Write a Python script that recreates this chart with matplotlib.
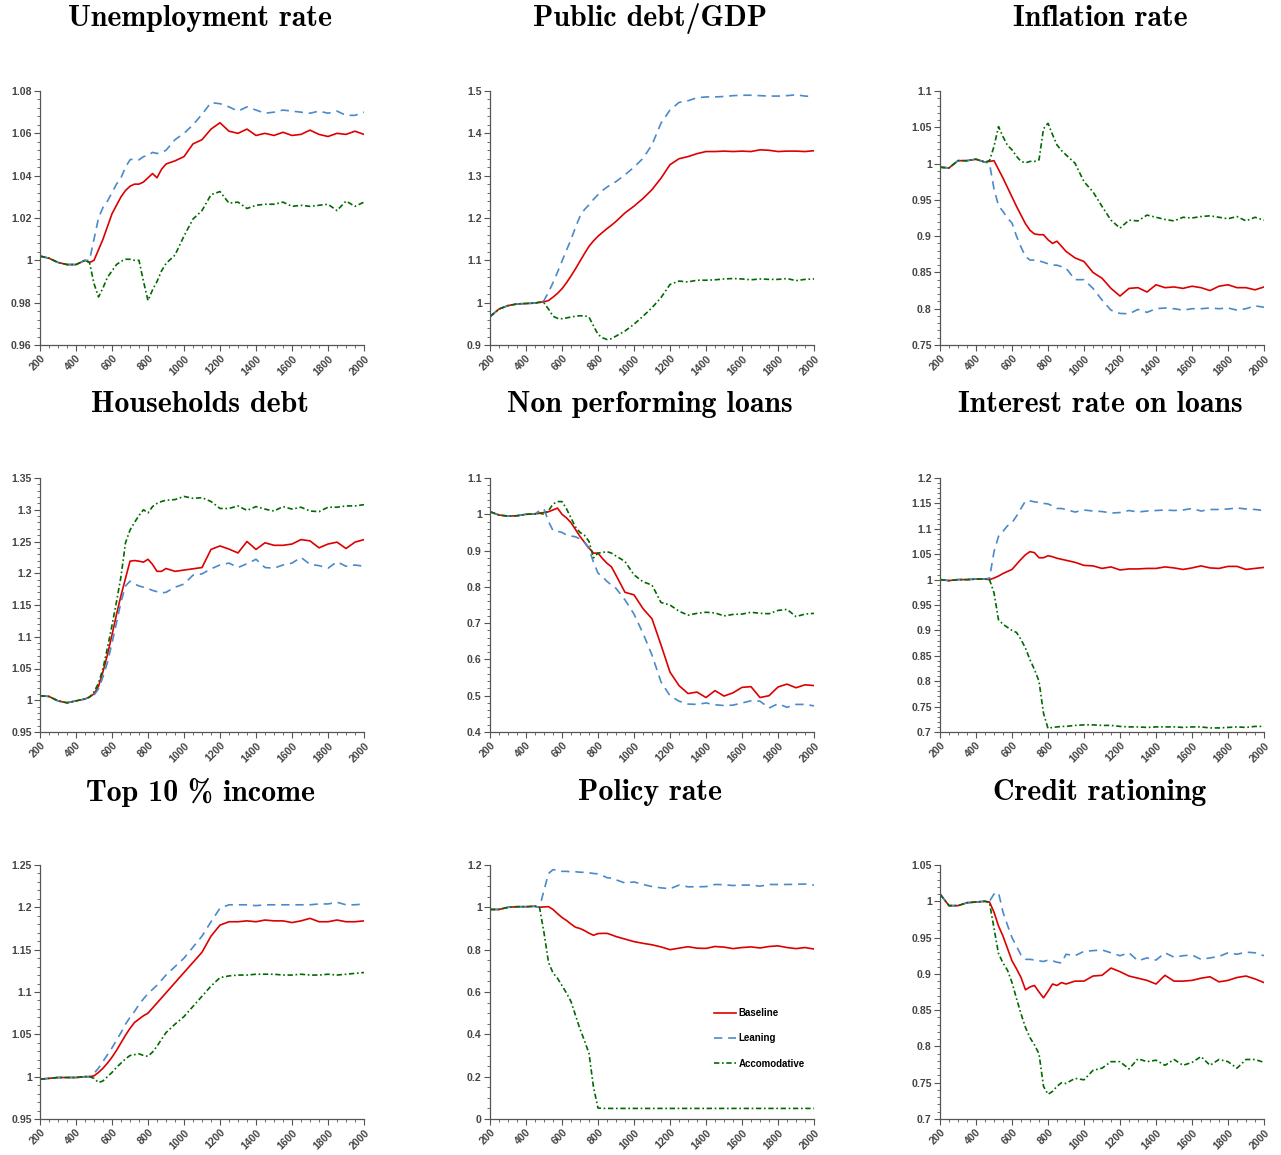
import matplotlib
matplotlib.use('Agg')
import matplotlib.pyplot as plt
from matplotlib.ticker import MultipleLocator, AutoMinorLocator, FuncFormatter

# periods on the x axis (finer around the shock)
x = [200, 250, 300, 350, 400, 450,
     475, 500, 525, 550, 575, 600, 625, 650, 675, 700, 725, 750, 775, 800, 825, 850, 875, 900,
     950, 1000, 1050, 1100, 1150, 1200, 1250, 1300, 1350, 1400, 1450, 1500, 1550, 1600, 1650,
     1700, 1750, 1800, 1850, 1900, 1950, 2000]

titles = ['Unemployment rate', 'Public debt/GDP', 'Inflation rate',
          'Households debt', 'Non performing loans', 'Interest rate on loans',
          'Top 10 % income', 'Policy rate', 'Credit rationing']
labels = ['Baseline', 'Leaning', 'Accomodative']

unemp_base = [1.002, 1.001, 0.999, 0.998, 0.998, 1.000,
              0.999, 1.000, 1.005, 1.010, 1.016, 1.022, 1.026, 1.030, 1.033, 1.035, 1.036, 1.036, 1.037, 1.039, 1.041, 1.039, 1.043, 1.0455,
              1.047, 1.049, 1.055, 1.057, 1.062, 1.065, 1.061, 1.060, 1.062, 1.059, 1.060, 1.059, 1.0605, 1.059, 1.0595, 1.0615, 1.0595, 1.0585, 1.060, 1.0595, 1.061, 1.0595]
unemp_lean = [1.002, 1.001, 0.999, 0.998, 0.998, 1.000,
              1.000, 1.010, 1.020, 1.025, 1.028, 1.032, 1.036, 1.039, 1.044, 1.0475, 1.048, 1.0475, 1.049, 1.0495, 1.051, 1.0505, 1.051, 1.052,
              1.057, 1.060, 1.064, 1.069, 1.0745, 1.074, 1.0725, 1.0705, 1.0725, 1.071, 1.0695, 1.070, 1.071, 1.0705, 1.070, 1.0695, 1.0705, 1.0695, 1.0705, 1.0685, 1.0685, 1.070]
unemp_acc = [1.002, 1.001, 0.999, 0.998, 0.998, 1.000,
             0.999, 0.989, 0.9827, 0.987, 0.992, 0.995, 0.998, 0.9995, 1.0005, 1.0005, 1.000, 1.000, 0.990, 0.981, 0.986, 0.990, 0.995, 0.9985,
             1.0025, 1.0115, 1.0195, 1.0235, 1.031, 1.0325, 1.027, 1.0275, 1.0245, 1.026, 1.0265, 1.0265, 1.0275, 1.0255, 1.026, 1.0255, 1.026, 1.0265, 1.0235, 1.028, 1.0255, 1.0275]

debt_base = [0.967, 0.985, 0.993, 0.997, 0.998, 0.999,
             1.001, 1.002, 1.005, 1.013, 1.022, 1.033, 1.047, 1.063, 1.080, 1.098, 1.116, 1.133, 1.146, 1.157, 1.166, 1.175, 1.183, 1.192,
             1.212, 1.228, 1.246, 1.267, 1.294, 1.326, 1.340, 1.345, 1.352, 1.357, 1.357, 1.358, 1.357, 1.358, 1.357, 1.361, 1.360, 1.357, 1.358, 1.358, 1.357, 1.359]
debt_lean = [0.967, 0.985, 0.993, 0.997, 0.998, 0.999,
             1.001, 1.005, 1.025, 1.047, 1.072, 1.098, 1.124, 1.149, 1.178, 1.204, 1.220, 1.231, 1.244, 1.255, 1.265, 1.273, 1.280, 1.286,
             1.302, 1.320, 1.341, 1.373, 1.424, 1.455, 1.473, 1.477, 1.484, 1.486, 1.486, 1.487, 1.489, 1.490, 1.490, 1.489, 1.488, 1.488, 1.489, 1.491, 1.488, 1.487]
debt_acc = [0.967, 0.985, 0.993, 0.997, 0.998, 0.999,
            1.001, 0.999, 0.985, 0.968, 0.963, 0.962, 0.964, 0.966, 0.968, 0.969, 0.969, 0.966, 0.945, 0.925, 0.917, 0.913, 0.915, 0.921,
            0.933, 0.949, 0.968, 0.988, 1.012, 1.043, 1.051, 1.049, 1.053, 1.053, 1.054, 1.056, 1.057, 1.056, 1.054, 1.056, 1.055, 1.055, 1.057, 1.052, 1.055, 1.056]

infl_base = [0.995, 0.994, 1.004, 1.004, 1.006, 1.002,
             1.003, 1.004, 0.992, 0.980, 0.967, 0.954, 0.941, 0.929, 0.917, 0.908, 0.903, 0.902, 0.902, 0.895, 0.890, 0.893, 0.886, 0.879,
             0.870, 0.865, 0.850, 0.842, 0.828, 0.8175, 0.828, 0.829, 0.823, 0.833, 0.829, 0.830, 0.828, 0.831, 0.829, 0.825, 0.831, 0.833, 0.829, 0.829, 0.826, 0.830]
infl_lean = [0.995, 0.994, 1.004, 1.004, 1.006, 1.002,
             1.000, 0.965, 0.942, 0.934, 0.925, 0.918, 0.900, 0.885, 0.872, 0.867, 0.867, 0.866, 0.864, 0.862, 0.860, 0.860, 0.858, 0.856,
             0.840, 0.840, 0.828, 0.812, 0.798, 0.7935, 0.793, 0.799, 0.795, 0.800, 0.801, 0.800, 0.798, 0.800, 0.800, 0.801, 0.800, 0.801, 0.798, 0.800, 0.804, 0.802]
infl_acc = [0.995, 0.994, 1.004, 1.004, 1.006, 1.002,
            1.004, 1.0235, 1.051, 1.037, 1.025, 1.019, 1.010, 1.003, 1.001, 1.003, 1.003, 1.005, 1.048, 1.0555, 1.040, 1.0256, 1.018, 1.012,
            1.0005, 0.975, 0.961, 0.941, 0.922, 0.911, 0.922, 0.921, 0.929, 0.926, 0.923, 0.921, 0.926, 0.925, 0.927, 0.928, 0.926, 0.924, 0.927, 0.921, 0.926, 0.922]

hh_base = [1.007, 1.006, 0.999, 0.996, 0.999, 1.002,
           1.005, 1.010, 1.022, 1.045, 1.072, 1.103, 1.135, 1.165, 1.192, 1.219, 1.220, 1.219, 1.2175, 1.222, 1.214, 1.203, 1.203, 1.2075,
           1.203, 1.205, 1.207, 1.209, 1.2375, 1.243, 1.238, 1.232, 1.250, 1.2375, 1.248, 1.244, 1.244, 1.246, 1.253, 1.251, 1.240, 1.246, 1.249, 1.239, 1.249, 1.253]
hh_lean = [1.007, 1.006, 0.999, 0.996, 0.999, 1.002,
           1.005, 1.008, 1.018, 1.037, 1.060, 1.090, 1.122, 1.155, 1.180, 1.1875, 1.183, 1.180, 1.178, 1.176, 1.173, 1.171, 1.169, 1.170,
           1.178, 1.183, 1.197, 1.199, 1.207, 1.213, 1.216, 1.209, 1.215, 1.222, 1.209, 1.208, 1.213, 1.216, 1.225, 1.214, 1.212, 1.208, 1.218, 1.211, 1.213, 1.211]
hh_acc = [1.007, 1.006, 0.999, 0.996, 0.999, 1.002,
          1.005, 1.013, 1.027, 1.050, 1.083, 1.118, 1.155, 1.195, 1.248, 1.268, 1.280, 1.291, 1.300, 1.295, 1.305, 1.310, 1.313, 1.315,
          1.316, 1.321, 1.318, 1.319, 1.313, 1.302, 1.302, 1.306, 1.299, 1.305, 1.301, 1.298, 1.305, 1.301, 1.304, 1.298, 1.297, 1.304, 1.304, 1.306, 1.306, 1.308]

npl_base = [1.007, 0.998, 0.995, 0.996, 1.000, 1.001,
            1.003, 1.005, 1.007, 1.012, 1.017, 1.000, 0.990, 0.977, 0.958, 0.939, 0.923, 0.907, 0.893, 0.893, 0.878, 0.865, 0.855, 0.832,
            0.785, 0.778, 0.740, 0.712, 0.640, 0.565, 0.528, 0.506, 0.510, 0.495, 0.514, 0.499, 0.508, 0.523, 0.525, 0.495, 0.500, 0.524, 0.532, 0.522, 0.530, 0.528]
npl_lean = [1.007, 0.998, 0.995, 0.996, 1.000, 1.001,
            1.010, 1.015, 0.980, 0.955, 0.953, 0.950, 0.943, 0.940, 0.938, 0.932, 0.922, 0.905, 0.868, 0.838, 0.828, 0.815, 0.805, 0.796,
            0.764, 0.725, 0.672, 0.612, 0.538, 0.500, 0.485, 0.477, 0.476, 0.480, 0.475, 0.473, 0.474, 0.480, 0.486, 0.485, 0.466, 0.478, 0.468, 0.476, 0.476, 0.472]
npl_acc = [1.007, 0.998, 0.995, 0.996, 1.000, 1.001,
           1.003, 1.000, 1.010, 1.028, 1.035, 1.035, 1.015, 0.990, 0.965, 0.950, 0.942, 0.925, 0.880, 0.893, 0.895, 0.897, 0.893, 0.885,
           0.870, 0.833, 0.814, 0.805, 0.757, 0.750, 0.733, 0.722, 0.727, 0.730, 0.728, 0.720, 0.724, 0.725, 0.730, 0.727, 0.726, 0.735, 0.738, 0.718, 0.725, 0.727]

loan_base = [1.000, 0.998, 1.000, 1.000, 1.001, 1.001,
             1.000, 1.003, 1.007, 1.012, 1.016, 1.020, 1.030, 1.040, 1.049, 1.055, 1.053, 1.043, 1.043, 1.047, 1.045, 1.042, 1.040, 1.038,
             1.034, 1.028, 1.027, 1.022, 1.025, 1.019, 1.021, 1.021, 1.022, 1.022, 1.025, 1.023, 1.020, 1.023, 1.027, 1.023, 1.022, 1.026, 1.026, 1.020, 1.022, 1.024]
loan_lean = [1.000, 0.998, 1.000, 1.000, 1.001, 1.001,
             1.003, 1.055, 1.085, 1.095, 1.106, 1.112, 1.125, 1.140, 1.155, 1.155, 1.153, 1.152, 1.150, 1.149, 1.145, 1.140, 1.140, 1.138,
             1.133, 1.137, 1.135, 1.134, 1.131, 1.132, 1.136, 1.133, 1.135, 1.136, 1.137, 1.136, 1.137, 1.140, 1.135, 1.138, 1.138, 1.139, 1.141, 1.139, 1.138, 1.136]
loan_acc = [1.000, 0.998, 1.000, 1.000, 1.001, 1.001,
            1.000, 0.974, 0.921, 0.912, 0.906, 0.900, 0.896, 0.882, 0.865, 0.842, 0.823, 0.800, 0.737, 0.707, 0.709, 0.710, 0.711, 0.711,
            0.713, 0.714, 0.714, 0.713, 0.713, 0.711, 0.710, 0.710, 0.709, 0.710, 0.710, 0.710, 0.709, 0.710, 0.710, 0.708, 0.708, 0.709, 0.710, 0.709, 0.711, 0.711]

top_base = [0.997, 0.998, 0.999, 0.999, 0.999, 1.000,
            1.000, 1.001, 1.005, 1.010, 1.016, 1.023, 1.031, 1.040, 1.049, 1.057, 1.064, 1.068, 1.072, 1.075, 1.081, 1.087, 1.093, 1.099,
            1.111, 1.123, 1.135, 1.147, 1.166, 1.179, 1.183, 1.183, 1.184, 1.183, 1.185, 1.184, 1.184, 1.182, 1.184, 1.187, 1.183, 1.183, 1.185, 1.183, 1.183, 1.184]
top_lean = [0.997, 0.998, 0.999, 0.999, 0.999, 1.000,
            1.000, 1.004, 1.010, 1.018, 1.026, 1.034, 1.043, 1.052, 1.062, 1.070, 1.077, 1.085, 1.092, 1.098, 1.103, 1.108, 1.114, 1.120,
            1.130, 1.140, 1.153, 1.166, 1.183, 1.199, 1.203, 1.203, 1.203, 1.202, 1.203, 1.203, 1.203, 1.203, 1.203, 1.203, 1.204, 1.204, 1.206, 1.203, 1.203, 1.204]
top_acc = [0.997, 0.998, 0.999, 0.999, 0.999, 1.000,
           1.000, 0.998, 0.993, 0.995, 1.000, 1.005, 1.011, 1.016, 1.021, 1.025, 1.026, 1.027, 1.025, 1.024, 1.029, 1.036, 1.044, 1.052,
           1.062, 1.071, 1.083, 1.095, 1.107, 1.117, 1.119, 1.120, 1.120, 1.121, 1.121, 1.121, 1.120, 1.120, 1.121, 1.120, 1.120, 1.121, 1.120, 1.121, 1.122, 1.123]

pol_base = [0.990, 0.990, 1.000, 1.003, 1.003, 1.005,
            1.000, 1.002, 1.003, 0.990, 0.970, 0.952, 0.938, 0.921, 0.906, 0.900, 0.890, 0.878, 0.868, 0.876, 0.877, 0.877, 0.870, 0.862,
            0.850, 0.838, 0.830, 0.823, 0.813, 0.800, 0.807, 0.814, 0.807, 0.806, 0.815, 0.812, 0.805, 0.810, 0.813, 0.808, 0.815, 0.818, 0.810, 0.805, 0.810, 0.803]
pol_lean = [0.990, 0.990, 1.000, 1.003, 1.003, 1.005,
            1.000, 1.080, 1.160, 1.178, 1.175, 1.170, 1.170, 1.168, 1.168, 1.166, 1.165, 1.163, 1.160, 1.158, 1.150, 1.140, 1.138, 1.130,
            1.115, 1.120, 1.108, 1.098, 1.092, 1.088, 1.105, 1.097, 1.097, 1.098, 1.108, 1.107, 1.103, 1.105, 1.105, 1.100, 1.108, 1.108, 1.108, 1.109, 1.110, 1.105]
pol_acc = [0.990, 0.990, 1.000, 1.003, 1.003, 1.005,
           1.000, 0.880, 0.740, 0.690, 0.665, 0.630, 0.595, 0.555, 0.490, 0.425, 0.370, 0.310, 0.150, 0.052, 0.050, 0.050, 0.050, 0.050,
           0.050, 0.050, 0.050, 0.050, 0.050, 0.050, 0.050, 0.050, 0.050, 0.050, 0.050, 0.050, 0.050, 0.050, 0.050, 0.050, 0.050, 0.050, 0.050, 0.050, 0.050, 0.050]

cred_base = [1.010, 0.994, 0.994, 0.998, 0.999, 1.000,
             0.999, 0.985, 0.966, 0.952, 0.935, 0.918, 0.907, 0.895, 0.878, 0.882, 0.884, 0.875, 0.867, 0.876, 0.886, 0.884, 0.888, 0.886,
             0.890, 0.890, 0.897, 0.898, 0.908, 0.903, 0.897, 0.894, 0.891, 0.886, 0.898, 0.890, 0.890, 0.891, 0.894, 0.896, 0.889, 0.891, 0.895, 0.897, 0.893, 0.888]
cred_lean = [1.010, 0.994, 0.994, 0.998, 0.999, 1.000,
             1.000, 1.010, 1.012, 0.985, 0.967, 0.950, 0.938, 0.926, 0.920, 0.920, 0.919, 0.918, 0.917, 0.919, 0.918, 0.916, 0.915, 0.927,
             0.925, 0.931, 0.932, 0.933, 0.929, 0.925, 0.929, 0.918, 0.922, 0.919, 0.929, 0.923, 0.925, 0.926, 0.920, 0.922, 0.924, 0.929, 0.927, 0.930, 0.929, 0.925]
cred_acc = [1.010, 0.994, 0.994, 0.998, 0.999, 1.000,
            0.998, 0.963, 0.928, 0.915, 0.905, 0.888, 0.866, 0.845, 0.826, 0.812, 0.802, 0.790, 0.745, 0.734, 0.738, 0.745, 0.750, 0.749,
            0.756, 0.754, 0.767, 0.770, 0.779, 0.779, 0.769, 0.783, 0.779, 0.781, 0.774, 0.782, 0.774, 0.778, 0.786, 0.774, 0.782, 0.779, 0.770, 0.782, 0.782, 0.778]

series = [(unemp_base, unemp_lean, unemp_acc), (debt_base, debt_lean, debt_acc),
          (infl_base, infl_lean, infl_acc), (hh_base, hh_lean, hh_acc),
          (npl_base, npl_lean, npl_acc), (loan_base, loan_lean, loan_acc),
          (top_base, top_lean, top_acc), (pol_base, pol_lean, pol_acc),
          (cred_base, cred_lean, cred_acc)]

# y range, major step, minor subdivisions
yaxes = [(0.96, 1.08, 0.02, 5), (0.9, 1.5, 0.1, 5), (0.75, 1.1, 0.05, 5),
         (0.95, 1.35, 0.05, 5), (0.4, 1.1, 0.1, 5), (0.7, 1.2, 0.05, 5),
         (0.95, 1.25, 0.05, 5), (0.0, 1.2, 0.2, 4), (0.7, 1.05, 0.05, 5)]

colors = ['#dd0000', '#4a8acb', '#006a00']
styles = ['-', (0, (5, 3.5)), (0, (3.2, 1.6, 1, 1.6))]
tick_col = '#555555'

W, H = 1281, 1155
fig = plt.figure(figsize=(W / 100, H / 100), dpi=100)
lefts = [40, 490, 940]
tops = [91, 478, 865]
aw, ah = 324, 254

for i, title in enumerate(titles):
    r, c = divmod(i, 3)
    ax = fig.add_axes([lefts[c] / W, 1 - (tops[r] + ah) / H, aw / W, ah / H])
    for s, col, ls, lab in zip(series[i], colors, styles, labels):
        assert len(s) == len(x)
        ax.plot(x, s, color=col, linestyle=ls, linewidth=1.2, label=lab)
    lo, hi, step, nsub = yaxes[i]
    ax.set_xlim(200, 2000)
    ax.set_ylim(lo, hi)
    ax.xaxis.set_major_locator(MultipleLocator(200))
    ax.xaxis.set_minor_locator(MultipleLocator(50))
    ax.yaxis.set_major_locator(MultipleLocator(step))
    ax.yaxis.set_minor_locator(AutoMinorLocator(nsub))
    ax.yaxis.set_major_formatter(FuncFormatter(lambda v, p: '%g' % round(v, 4)))
    for sp in ['top', 'right']:
        ax.spines[sp].set_visible(False)
    for sp in ['left', 'bottom']:
        ax.spines[sp].set_color(tick_col)
        ax.spines[sp].set_linewidth(0.9)
    ax.tick_params(which='major', direction='out', length=4, width=0.8, color=tick_col,
                   labelsize=7.6, labelcolor='#444444', pad=2)
    ax.tick_params(which='minor', direction='out', length=2.5, width=0.6, color=tick_col)
    for lbl in ax.get_xticklabels() + ax.get_yticklabels():
        lbl.set_fontfamily('Liberation Sans')
        lbl.set_fontweight('bold')
    for lbl in ax.get_xticklabels():
        lbl.set_rotation(45)
        lbl.set_ha('right')
        lbl.set_rotation_mode('anchor')
    fig.text((lefts[c] + aw / 2 - 2) / W, 1 - (tops[r] - 73) / H, title,
             ha='center', va='center', fontsize=21.5, family='cmb10')
    if i == 7:
        ax.legend(loc='upper left', bbox_to_anchor=(0.665, 0.47), frameon=False,
                  handlelength=2.2, handletextpad=0.3, labelspacing=1.55,
                  prop={'family': 'Liberation Sans', 'weight': 'bold', 'size': 7})

fig.savefig('out.png', dpi=100)
